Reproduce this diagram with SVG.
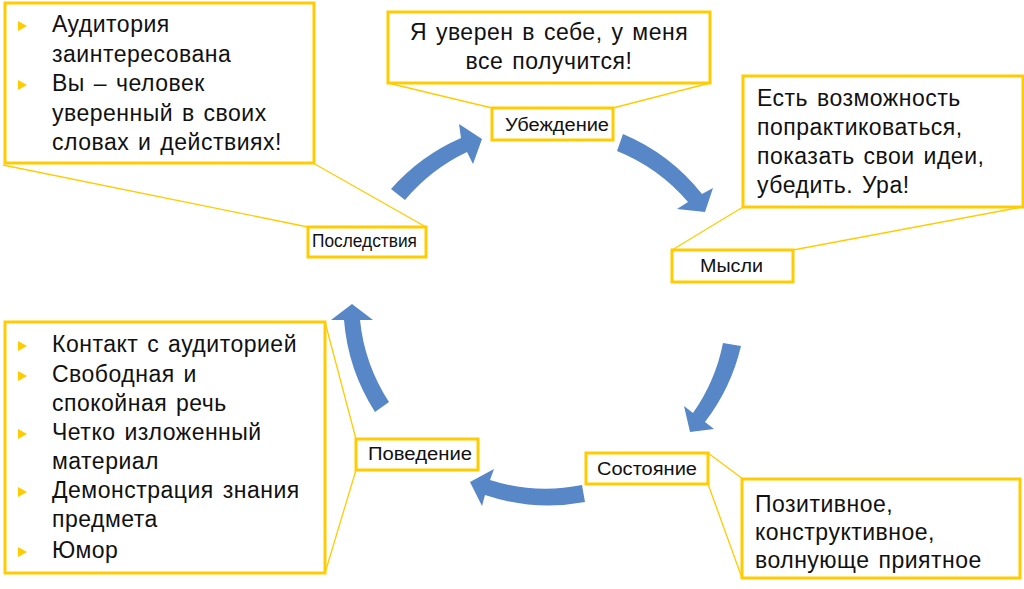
<svg xmlns="http://www.w3.org/2000/svg" width="1024" height="589" viewBox="0 0 1024 589">
<style>
.box{fill:#fff;stroke:#FFCC00;stroke-width:3}
.lbl{fill:#fff;stroke:#FFCC00;stroke-width:3}
.t{font-family:"Liberation Sans",Arial,sans-serif;font-size:23px;letter-spacing:0.5px;word-spacing:2px;fill:#111}
.l{font-family:"Liberation Sans",Arial,sans-serif;font-size:18px;fill:#111}
.cl{stroke:#FFCC00;stroke-width:1.3;fill:none}
.arr{fill:#5787C6}
.bul{fill:#FFCC00}
</style>
<g id="connectors">
<line class="cl" x1="388" y1="83" x2="492" y2="108"/>
<line class="cl" x1="710" y1="83" x2="613" y2="108"/>
<line class="cl" x1="743" y1="207" x2="672" y2="250"/>
<line class="cl" x1="1022" y1="207" x2="793" y2="250"/>
<line class="cl" x1="3" y1="165" x2="308" y2="227"/>
<line class="cl" x1="313" y1="163" x2="426" y2="227"/>
<line class="cl" x1="325" y1="322" x2="356" y2="439"/>
<line class="cl" x1="356" y1="470" x2="325" y2="573"/>
<line class="cl" x1="708" y1="453" x2="743" y2="479"/>
<line class="cl" x1="708" y1="484" x2="742" y2="578"/>
<path class="arr" d="M391,189 A200,200 0 0 1 461,138 L459,124 L482,139 L473,164 L467,152 A184,184 0 0 0 405,200 Z"/>
<path class="arr" d="M623,134 A200,200 0 0 1 702,194 L713,188 L705,212 L677,209 L688,202 A184,184 0 0 0 617,151 Z"/>
<path class="arr" d="M741,346 A200,200 0 0 1 705,422 L714,429 L690,432 L684,406 L693,413 A184,184 0 0 0 723,343 Z"/>
<path class="arr" d="M585,502 A200,200 0 0 1 485,495 L482,506 L470,482 L494,469 L490,480 A184,184 0 0 0 582,485 Z"/>
<path class="arr" d="M375,412 A200,200 0 0 1 344,320 L331,320 L352,304 L373,320 L360,320 A184,184 0 0 0 389,402 Z"/>
</g>
<g id="box-consequences">
<rect class="box" x="5" y="3" width="309" height="160"/>
<polygon class="bul" points="18,21 27,26 18,31"/>
<polygon class="bul" points="18,80 27,85 18,90"/>
<text class="t" x="52" y="32">Аудитория</text>
<text class="t" x="52" y="61.5">заинтересована</text>
<text class="t" x="52" y="91">Вы – человек</text>
<text class="t" x="52" y="120.5">уверенный в своих</text>
<text class="t" x="52" y="150">словах и действиях!</text>
</g>
<g id="box-belief">
<rect class="box" x="388" y="12" width="322" height="71"/>
<text class="t" x="549" y="40" text-anchor="middle">Я уверен в себе, у меня</text>
<text class="t" x="549" y="69" text-anchor="middle">все получится!</text>
</g>
<g id="box-thoughts">
<rect class="box" x="743" y="76" width="280" height="131"/>
<text class="t" x="757" y="106">Есть возможность</text>
<text class="t" x="757" y="134.5">попрактиковаться,</text>
<text class="t" x="757" y="163.5">показать свои идеи,</text>
<text class="t" x="757" y="193">убедить. Ура!</text>
</g>
<g id="box-behavior">
<rect class="box" x="5" y="322" width="320" height="251"/>
<polygon class="bul" points="18,341 27,346 18,351"/>
<polygon class="bul" points="18,371 27,376 18,381"/>
<polygon class="bul" points="18,429 27,434 18,439"/>
<polygon class="bul" points="18,487 27,492 18,497"/>
<polygon class="bul" points="18,547 27,552 18,557"/>
<text class="t" x="52" y="352">Контакт с аудиторией</text>
<text class="t" x="52" y="382">Свободная и</text>
<text class="t" x="52" y="410.5">спокойная речь</text>
<text class="t" x="52" y="440">Четко изложенный</text>
<text class="t" x="52" y="468.5">материал</text>
<text class="t" x="52" y="498">Демонстрация знания</text>
<text class="t" x="52" y="527">предмета</text>
<text class="t" x="52" y="558">Юмор</text>
</g>
<g id="box-state">
<rect class="box" x="742" y="479" width="278" height="99"/>
<text class="t" x="755" y="512">Позитивное,</text>
<text class="t" x="755" y="540">конструктивное,</text>
<text class="t" x="755" y="568">волнующе приятное</text>
</g>
<g id="node-belief">
<rect class="lbl" x="492" y="108" width="121" height="32"/>
<text class="l" x="505" y="131" textLength="104" lengthAdjust="spacingAndGlyphs">Убеждение</text>
</g>
<g id="node-thoughts">
<rect class="lbl" x="672" y="250" width="121" height="32"/>
<text class="l" x="700" y="272" textLength="63" lengthAdjust="spacingAndGlyphs">Мысли</text>
</g>
<g id="node-state">
<rect class="lbl" x="586" y="453" width="122" height="31"/>
<text class="l" x="597" y="475" textLength="100" lengthAdjust="spacingAndGlyphs">Состояние</text>
</g>
<g id="node-behavior">
<rect class="lbl" x="356" y="439" width="122" height="31"/>
<text class="l" x="368" y="460" textLength="104" lengthAdjust="spacingAndGlyphs">Поведение</text>
</g>
<g id="node-consequences">
<rect class="lbl" x="308" y="227" width="118" height="30"/>
<text class="l" x="312" y="247" textLength="105" lengthAdjust="spacingAndGlyphs">Последствия</text>
</g>
</svg>
